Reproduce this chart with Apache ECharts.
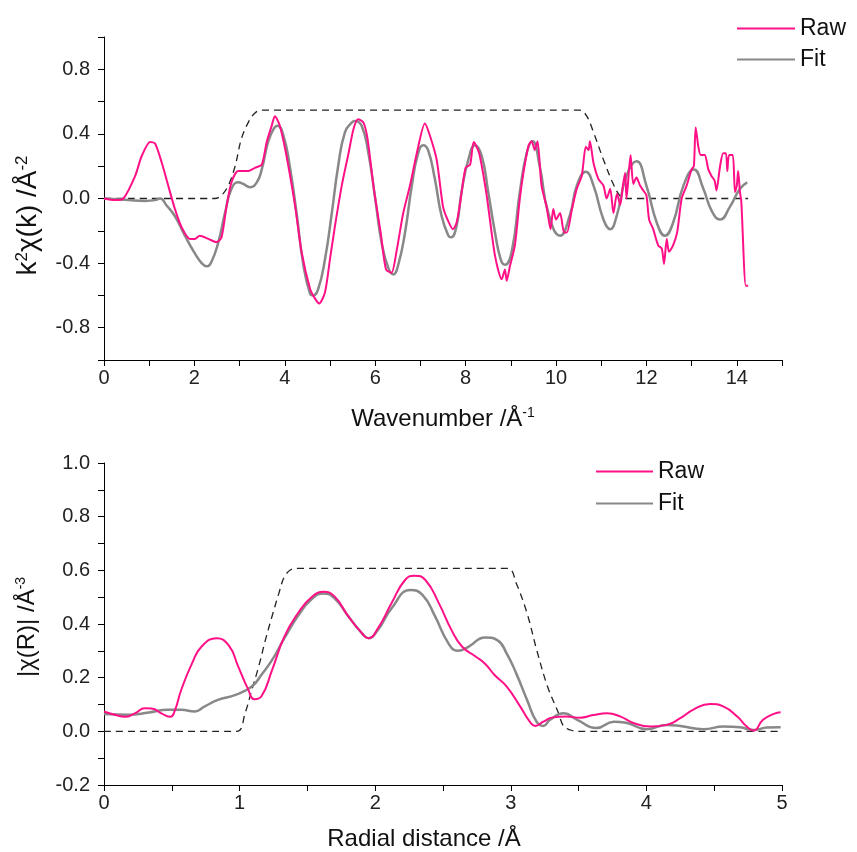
<!DOCTYPE html>
<html>
<head>
<meta charset="utf-8">
<script src="https://cdn.jsdelivr.net/npm/echarts@6/dist/echarts.min.js"></script>
<style>
html,body{margin:0;padding:0;background:#fff;}
#chart{width:857px;height:852px;}
</style>
</head>
<body>
<div id="chart"></div>
<script>
// ---- Top panel: k-space ----
var kRawX = [0,0.24,0.43,0.69,0.83,1.02,1.13,1.28,1.42,1.57,1.72,1.90,2.01,2.12,2.31,2.49,2.6,2.71,2.82,2.97,3.19,3.34,3.49,3.6,3.71,3.78,3.89,4.04,4.23,4.37,4.56,4.67,4.76,4.89,5.0,5.11,5.26,5.41,5.52,5.62,5.74,5.83,5.97,6.12,6.24,6.36,6.47,6.62,6.77,6.92,7.1,7.21,7.36,7.5,7.6,7.72,7.8,7.88,8.0,8.1,8.18,8.3,8.46,8.65,8.80,8.87,8.91,8.98,9.09,9.2,9.28,9.39,9.46,9.53,9.59,9.68,9.79,9.88,9.94,10.0,10.09,10.18,10.24,10.35,10.46,10.57,10.66,10.72,10.75,10.83,10.94,11.05,11.12,11.2,11.27,11.35,11.42,11.48,11.53,11.56,11.65,11.71,11.78,11.86,11.93,12.0,12.06,12.15,12.26,12.34,12.39,12.45,12.5,12.59,12.68,12.78,12.89,13.0,13.05,13.09,13.15,13.2,13.29,13.37,13.44,13.51,13.55,13.63,13.7,13.76,13.79,13.83,13.91,13.96,14.0,14.03,14.07,14.1,14.2,14.25];
var kRawY = [0,-0.01,0.0,0.14,0.26,0.35,0.34,0.22,0.08,-0.066,-0.18,-0.25,-0.25,-0.23,-0.25,-0.27,-0.24,-0.05,0.1,0.17,0.17,0.19,0.21,0.35,0.45,0.51,0.45,0.26,-0.05,-0.33,-0.56,-0.62,-0.65,-0.58,-0.375,-0.17,0.08,0.28,0.43,0.49,0.47,0.37,0.06,-0.21,-0.44,-0.46,-0.33,-0.09,0.08,0.28,0.465,0.39,0.24,-0.05,-0.13,-0.19,-0.15,-0.025,0.19,0.21,0.35,0.28,0.03,-0.354,-0.5,-0.44,-0.51,-0.42,-0.29,0.0,0.16,0.325,0.355,0.3,0.355,0.08,-0.05,-0.19,-0.065,-0.13,-0.09,-0.21,-0.21,-0.07,0.06,0.14,0.32,0.3,0.355,0.22,0.12,0.08,0.0,0.06,-0.09,0.03,-0.04,0.08,0.16,0.0,0.27,0.09,0.13,0.08,0.05,0.02,-0.13,-0.19,-0.29,-0.31,-0.405,-0.25,-0.33,-0.29,-0.21,0.0,0.08,0.18,0.2,0.44,0.32,0.27,0.27,0.18,0.14,0.11,0.05,0.2,0.28,0.28,0.17,0.27,0.27,0.04,0.08,0.17,0.04,-0.02,-0.54,-0.54];

var kFitX = [0,0.54,0.91,1.13,1.24,1.39,1.57,1.79,2.01,2.16,2.27,2.38,2.53,2.68,2.82,2.97,3.08,3.23,3.38,3.49,3.63,3.75,3.84,3.97,4.11,4.26,4.41,4.56,4.63,4.74,4.89,5.04,5.18,5.33,5.48,5.55,5.7,5.85,6.0,6.14,6.29,6.4,6.51,6.66,6.81,6.95,7.06,7.17,7.32,7.47,7.62,7.68,7.8,7.91,8.06,8.21,8.36,8.5,8.65,8.78,8.87,9.02,9.2,9.35,9.48,9.64,9.83,10.09,10.31,10.46,10.66,10.83,11.05,11.2,11.34,11.56,11.78,12.0,12.23,12.41,12.59,12.82,13.05,13.26,13.45,13.63,13.85,14.07,14.23];
var kFitY = [0,-0.01,-0.015,-0.01,0.0,-0.045,-0.11,-0.23,-0.34,-0.40,-0.42,-0.39,-0.27,-0.086,0.06,0.10,0.09,0.07,0.1,0.18,0.35,0.43,0.45,0.39,0.2,-0.09,-0.41,-0.59,-0.6,-0.56,-0.375,-0.09,0.2,0.41,0.47,0.48,0.45,0.28,0.0,-0.27,-0.43,-0.47,-0.41,-0.21,0.08,0.28,0.33,0.3,0.12,-0.11,-0.23,-0.24,-0.17,0.04,0.24,0.33,0.26,0.04,-0.21,-0.38,-0.41,-0.33,0.04,0.28,0.355,0.2,-0.09,-0.23,-0.1,0.08,0.165,0.08,-0.13,-0.19,-0.11,0.14,0.23,0.08,-0.15,-0.23,-0.15,0.08,0.18,0.06,-0.08,-0.13,-0.05,0.06,0.1];

var kWinX = [0,2.45,2.6,2.75,2.9,3.04,3.19,3.34,3.49,10.53,10.68,10.83,11.05,11.27,11.42,11.56,14.25];
var kWinY = [0,0,0.02,0.08,0.2,0.37,0.47,0.53,0.547,0.547,0.51,0.41,0.24,0.088,0.015,0,0];

// ---- Bottom panel: R-space ----
var rRawX = [0,0.08,0.155,0.23,0.30,0.35,0.43,0.49,0.52,0.57,0.65,0.72,0.83,0.92,0.99,1.06,1.11,1.16,1.24,1.33,1.43,1.53,1.62,1.7,1.8,1.9,1.95,2.02,2.12,2.22,2.29,2.37,2.47,2.56,2.64,2.74,2.81,2.88,2.97,3.07,3.14,3.18,3.24,3.31,3.41,3.51,3.61,3.71,3.81,3.9,4.03,4.15,4.25,4.35,4.47,4.57,4.67,4.74,4.79,4.86,4.94,4.99];
var rRawY = [0.074,0.062,0.054,0.068,0.086,0.085,0.065,0.054,0.074,0.155,0.254,0.316,0.347,0.32,0.241,0.16,0.12,0.13,0.229,0.353,0.44,0.5,0.52,0.503,0.43,0.367,0.347,0.384,0.477,0.564,0.58,0.564,0.477,0.38,0.316,0.279,0.252,0.21,0.167,0.092,0.036,0.02,0.036,0.052,0.055,0.051,0.061,0.067,0.055,0.032,0.018,0.024,0.049,0.082,0.102,0.092,0.055,0.018,0.003,0.043,0.065,0.071];

var rFitX = [0,0.18,0.33,0.47,0.57,0.67,0.74,0.84,0.97,1.09,1.16,1.24,1.33,1.43,1.53,1.62,1.7,1.8,1.9,1.95,2.02,2.12,2.26,2.35,2.44,2.54,2.61,2.69,2.81,2.9,2.97,3.04,3.12,3.19,3.24,3.29,3.39,3.49,3.63,3.76,3.85,4.0,4.15,4.25,4.42,4.57,4.69,4.79,4.89,4.99];
var rFitY = [0.065,0.062,0.07,0.08,0.08,0.074,0.092,0.117,0.136,0.167,0.21,0.266,0.347,0.43,0.492,0.514,0.496,0.43,0.367,0.347,0.378,0.458,0.527,0.508,0.43,0.328,0.3,0.316,0.35,0.34,0.29,0.216,0.117,0.036,0.02,0.043,0.067,0.043,0.012,0.036,0.032,0.008,0.024,0.02,0.008,0.018,0.015,0.005,0.014,0.015];

var rWinX = [0,0.98,1.04,1.09,1.14,1.19,1.24,1.29,1.33,1.38,1.43,2.98,3.04,3.12,3.19,3.27,3.35,3.39,3.44,3.49,5.0];
var rWinY = [0,0,0.067,0.154,0.24,0.34,0.43,0.515,0.576,0.603,0.607,0.607,0.552,0.44,0.305,0.168,0.07,0.018,0.005,0,0];

var legendNames = ['Raw', 'Fit'];

function zip(xs, ys) { return xs.map(function (x, i) { return [x, ys[i]]; }); }

var FONT = "'Liberation Sans', Arial, sans-serif";
var RAW_COLOR = '#ff1087';
var FIT_COLOR = '#888888';
var WIN_COLOR = '#222222';

function clean(v) { return Math.abs(v) < 1e-9 ? 0 : v; }

var axisCommon = {
  axisLine: { show: true, onZero: false, lineStyle: { color: '#000', width: 1 } },
  axisTick: { show: true, inside: false, length: 6, lineStyle: { color: '#000', width: 1 } },
  splitLine: { show: false },
  nameTextStyle: { fontFamily: FONT, color: '#111' }
};

function mk(base, extra) { return Object.assign({}, JSON.parse(JSON.stringify(base)), extra); }

var richName = {
  a: { fontSize: 24, fontFamily: FONT, color: '#111', lineHeight: 26 },
  s: { fontSize: 14, fontFamily: FONT, color: '#111', verticalAlign: 'top', lineHeight: 14 }
};
var richNameBig = {
  a: { fontSize: 28, fontFamily: FONT, color: '#111', lineHeight: 28 },
  s: { fontSize: 17, fontFamily: FONT, color: '#111', verticalAlign: 'top', lineHeight: 16 }
};

var option = {
  animation: false,
  backgroundColor: '#fff',
  grid: [
    { left: 104, top: 37, width: 678, height: 323 },
    { left: 104, top: 463, width: 678, height: 322 }
  ],
  legend: [
    {
      data: legendNames, orient: 'vertical', left: 736, top: 17, padding: 0,
      itemWidth: 58, itemHeight: 14, itemGap: 8, itemStyle: { opacity: 0 },
      textStyle: { fontFamily: FONT, fontSize: 23, color: '#111' }
    },
    {
      data: legendNames, orient: 'vertical', left: 595, top: 460, padding: 0,
      itemWidth: 57, itemHeight: 14, itemGap: 9, itemStyle: { opacity: 0 },
      textStyle: { fontFamily: FONT, fontSize: 23, color: '#111' }
    }
  ],
  xAxis: [
    mk(axisCommon, {
      type: 'value', gridIndex: 0, min: 0, max: 15, interval: 1,
      axisLabel: {
        fontFamily: FONT, fontSize: 20, color: '#222', margin: 8,
        formatter: function (v) { return Math.round(v) % 2 === 0 ? String(Math.round(v)) : ''; }
      },
      name: '{a|Wavenumber /Å}{s|-1}', nameLocation: 'middle', nameGap: 46,
      nameTextStyle: { rich: richName }
    }),
    mk(axisCommon, {
      type: 'value', gridIndex: 1, min: 0, max: 5, interval: 0.5,
      axisLabel: {
        fontFamily: FONT, fontSize: 20, color: '#222', margin: 8,
        formatter: function (v) { return Math.abs(v - Math.round(v)) < 1e-6 ? String(Math.round(v)) : ''; }
      },
      name: '{a|Radial distance /Å}', nameLocation: 'middle', nameGap: 41,
      nameTextStyle: { rich: richName, padding: [0, 38, 0, 0] }
    })
  ],
  yAxis: [
    mk(axisCommon, {
      type: 'value', gridIndex: 0, min: -1, max: 1, interval: 0.2,
      axisLabel: {
        fontFamily: FONT, fontSize: 20, color: '#222', margin: 14,
        formatter: function (v) { var k = Math.round(v * 10); return (k % 4 === 0) ? clean(v).toFixed(1) : ''; }
      },
      name: '{a|k}{s|2}{a|χ(k) /Å}{s|-2}', nameLocation: 'middle', nameGap: 62,
      nameTextStyle: { rich: richNameBig, padding: [0, 34, 0, 0] }
    }),
    mk(axisCommon, {
      type: 'value', gridIndex: 1, min: -0.2, max: 1.0, interval: 0.1,
      axisLabel: {
        fontFamily: FONT, fontSize: 20, color: '#222', margin: 14,
        formatter: function (v) { var k = Math.round(v * 10); return (k % 2 === 0) ? clean(v).toFixed(1) : ''; }
      },
      name: '{a||χ(R)| /Å}{s|-3}', nameLocation: 'middle', nameGap: 64,
      nameTextStyle: { rich: richName, padding: [0, 6, 0, 0] }
    })
  ],
  series: [
    { name: 'Window', type: 'line', xAxisIndex: 0, yAxisIndex: 0, data: zip(kWinX, kWinY),
      symbol: 'none', smooth: 0.35, silent: true, z: 1,
      lineStyle: { color: WIN_COLOR, width: 1.3, type: [7, 5] } },
    { name: 'Raw', type: 'line', xAxisIndex: 0, yAxisIndex: 0, data: zip(kRawX, kRawY),
      symbol: 'none', smooth: 0.25, z: 3, color: RAW_COLOR,
      lineStyle: { color: RAW_COLOR, width: 2 } },
    { name: 'Fit', type: 'line', xAxisIndex: 0, yAxisIndex: 0, data: zip(kFitX, kFitY),
      symbol: 'none', smooth: 0.5, z: 2, color: FIT_COLOR,
      lineStyle: { color: FIT_COLOR, width: 2.5 } },
    { name: 'Window', type: 'line', xAxisIndex: 1, yAxisIndex: 1, data: zip(rWinX, rWinY),
      symbol: 'none', smooth: 0.35, silent: true, z: 1,
      lineStyle: { color: WIN_COLOR, width: 1.3, type: [7, 5] } },
    { name: 'Raw', type: 'line', xAxisIndex: 1, yAxisIndex: 1, data: zip(rRawX, rRawY),
      symbol: 'none', smooth: 0.5, z: 3, color: RAW_COLOR,
      lineStyle: { color: RAW_COLOR, width: 2 } },
    { name: 'Fit', type: 'line', xAxisIndex: 1, yAxisIndex: 1, data: zip(rFitX, rFitY),
      symbol: 'none', smooth: 0.5, z: 2, color: FIT_COLOR,
      lineStyle: { color: FIT_COLOR, width: 2.5 } }
  ]
};

var chart = echarts.init(document.getElementById('chart'), null, { renderer: 'canvas' });
chart.setOption(option);
</script>
</body>
</html>
